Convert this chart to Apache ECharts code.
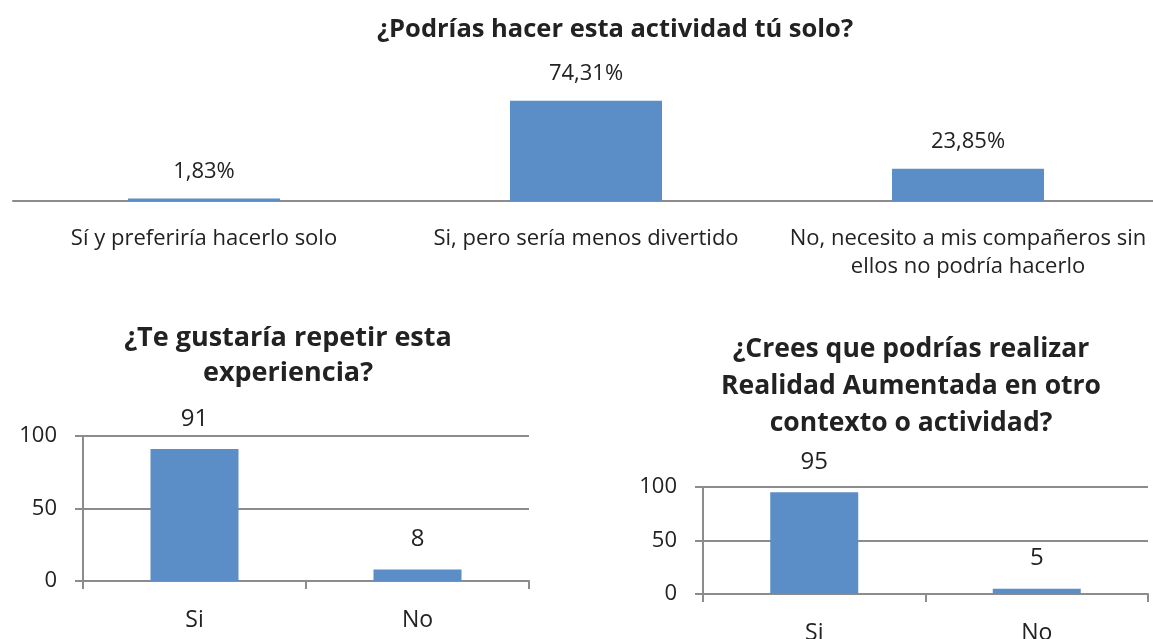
<!DOCTYPE html>
<html>
<head>
<meta charset="utf-8">
<script src="https://cdn.jsdelivr.net/npm/echarts@6/dist/echarts.min.js"></script>
<style>
  html, body { margin: 0; padding: 0; background: #fff; }
  #chart { width: 1153px; height: 639px; }
</style>
</head>
<body>
<div id="chart"></div>
<script>
// data
const soloCategories = ['Sí y preferiría hacerlo solo', 'Si, pero sería menos divertido', 'No, necesito a mis compañeros sin\nellos no podría hacerlo']
const soloValues = [1.83, 74.31, 23.85]
const repetirCategories = ['Si', 'No']
const repetirValues = [91, 8]
const realidadCategories = ['Si', 'No']
const realidadValues = [95, 5]
const yTicks = [0, 50, 100]

const FONT = '"Open Sans", sans-serif'
const BAR = '#5b8ec6'
const GRAY = '#8c8c8c'
const TXT = '#222'

const chart = echarts.init(document.getElementById('chart'), null, { renderer: 'canvas' })

const titleStyle = (size, lh) => ({ fontFamily: FONT, fontWeight: 'bold', fontSize: size, color: TXT, lineHeight: lh })

const smallYAxis = (gridIndex) => ({
  type: 'value', gridIndex, min: yTicks[0], max: yTicks[yTicks.length - 1], interval: 50,
  axisLine: { show: true, lineStyle: { color: GRAY, width: 2 } },
  axisTick: { show: true, length: 8, lineStyle: { color: GRAY, width: 2 } },
  axisLabel: { color: TXT, fontFamily: FONT, fontSize: 22, margin: 26 },
  splitLine: { lineStyle: { color: GRAY, width: 2 } },
})

const smallXAxis = (gridIndex, data) => ({
  type: 'category', gridIndex, data,
  axisLine: { lineStyle: { color: GRAY, width: 2 } },
  axisTick: { show: true, length: 8, lineStyle: { color: GRAY, width: 2 } },
  axisLabel: { color: TXT, fontFamily: FONT, fontSize: 23, margin: 28 },
})

const barLabel = (fontSize, distance, fmt) => ({
  show: true, position: 'top', distance, color: TXT, fontFamily: FONT, fontSize, formatter: fmt,
})

chart.setOption({
  animation: false,
  backgroundColor: '#fff',
  title: [
    { text: '¿Podrías hacer esta actividad tú solo?', left: 610, top: 9, textAlign: 'center', textStyle: titleStyle(25.5, 32) },
    { text: '¿Te gustaría repetir esta\nexperiencia?', left: 283, top: 316, textAlign: 'center', textStyle: titleStyle(27, 35) },
    { text: '¿Crees que podrías realizar\nRealidad Aumentada en otro\ncontexto o actividad?', left: 906, top: 326, textAlign: 'center', textStyle: titleStyle(26.5, 37) },
  ],
  // fixed plot boxes, labels may run to the edge like the original
  grid: [
    { left: 13, top: 93, width: 1146, height: 108, outerBoundsMode: 'none' },
    { left: 83, top: 436, width: 446, height: 145, outerBoundsMode: 'none' },
    { left: 703, top: 487, width: 445, height: 107, outerBoundsMode: 'none' },
  ],
  xAxis: [
    {
      type: 'category', gridIndex: 0, data: soloCategories,
      axisLine: { lineStyle: { color: GRAY, width: 2 } },
      axisTick: { show: false },
      axisLabel: { color: TXT, fontFamily: FONT, fontSize: 22, margin: 24, lineHeight: 28, interval: 0 },
    },
    smallXAxis(1, repetirCategories),
    smallXAxis(2, realidadCategories),
  ],
  yAxis: [
    { type: 'value', gridIndex: 0, min: 0, max: 80, show: false, splitLine: { show: false } },
    smallYAxis(1),
    smallYAxis(2),
  ],
  series: [
    {
      type: 'bar', xAxisIndex: 0, yAxisIndex: 0, data: soloValues, barWidth: 152,
      itemStyle: { color: BAR },
      label: barLabel(22, 16, (p) => p.value.toFixed(2).replace('.', ',') + '%'),
    },
    {
      type: 'bar', xAxisIndex: 1, yAxisIndex: 1, data: repetirValues, barWidth: 88,
      itemStyle: { color: BAR },
      label: barLabel(24, 18),
    },
    {
      type: 'bar', xAxisIndex: 2, yAxisIndex: 2, data: realidadValues, barWidth: 88,
      itemStyle: { color: BAR },
      label: barLabel(24, 18),
    },
  ],
})
</script>
</body>
</html>
